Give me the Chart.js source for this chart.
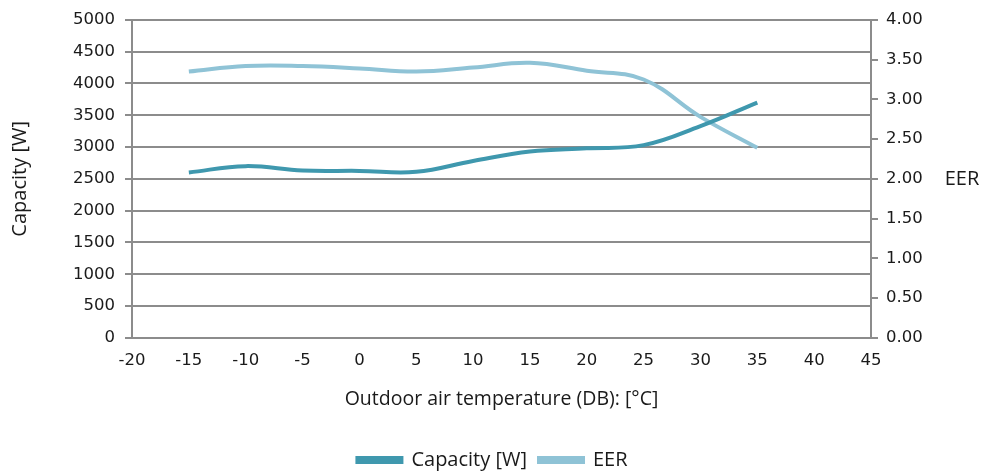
<!DOCTYPE html>
<html>
<head>
<meta charset="utf-8">
<script src="https://cdn.jsdelivr.net/npm/chart.js@4"></script>
<style>
  html, body { margin: 0; padding: 0; background: #ffffff; }
  #wrap { width: 985px; height: 476px; }
</style>
</head>
<body>
<div id="wrap"><canvas id="chart" width="985" height="476"></canvas></div>
<script>
const temps = [-15, -10, -5, 0, 5, 10, 15, 20, 25, 30, 35]
const capacity = [2600, 2700, 2630, 2625, 2610, 2780, 2930, 2980, 3030, 3330, 3700]
const eer = [3.35, 3.42, 3.42, 3.39, 3.35, 3.40, 3.46, 3.36, 3.25, 2.78, 2.39]

const gridGray = '#8c8c8c'
const textColor = '#1a1a1a'
const fontFamily = '"Open Sans", Lato, sans-serif'
const tickFont = { family: '"DejaVu Sans", sans-serif', size: 16.5 }

Chart.defaults.font.family = fontFamily
Chart.defaults.color = textColor

// right axis title is horizontal in the original, so it's drawn by hand
const eerTitle = {
    id: 'eer_title',
    afterDraw: (chart) => {
        const ctx = chart.ctx
        const area = chart.chartArea
        ctx.save()
        ctx.font = '20px ' + fontFamily
        ctx.fillStyle = textColor
        ctx.textAlign = 'center'
        ctx.textBaseline = 'middle'
        ctx.fillText('EER', chart.scales.y1.right - 23, (area.top + area.bottom) / 2)
        ctx.restore()
    }
}

function points(ys) {
    return temps.map((t, i) => ({x: t, y: ys[i]}))
}

const config = {
    type: 'line',
    data: {
        datasets: [{
            label: 'Capacity [W]',
            data: points(capacity),
            borderColor: '#3f98ae',
            backgroundColor: '#3f98ae',
            borderWidth: 4,
            pointRadius: 0,
            tension: 0.4,
            yAxisID: 'y',
        }, {
            label: 'EER',
            data: points(eer),
            borderColor: '#8fc3d6',
            backgroundColor: '#8fc3d6',
            borderWidth: 4,
            pointRadius: 0,
            tension: 0.4,
            yAxisID: 'y1',
        }]
    },
    plugins: [eerTitle],
    options: {
        responsive: false,
        animation: false,
        layout: { padding: { top: 16, left: 0, right: 0, bottom: -4 } },
        plugins: {
            tooltip: { enabled: false },
            legend: {
                position: 'bottom',
                labels: {
                    boxWidth: 44,
                    boxHeight: 4,
                    padding: 12,
                    font: { size: 20 },
                    color: textColor,
                }
            }
        },
        scales: {
            x: {
                type: 'linear',
                min: -20,
                max: 45,
                ticks: { stepSize: 5, font: tickFont, padding: 13 },
                grid: { display: false, drawTicks: false },
                border: { color: gridGray, width: 2 },
                title: {
                    display: true,
                    text: 'Outdoor air temperature (DB): [°C]',
                    font: { size: 19.5 },
                    padding: { top: 4, bottom: 27 },
                }
            },
            y: {
                position: 'left',
                min: 0,
                max: 5000,
                ticks: {
                    stepSize: 500,
                    font: tickFont,
                    padding: 10,
                    callback: (value) => String(value)
                },
                grid: { color: gridGray, lineWidth: 2, tickLength: 7 },
                border: { color: gridGray, width: 2 },
                title: {
                    display: true,
                    text: 'Capacity [W]',
                    font: { size: 20 },
                    padding: { top: 8, bottom: 8 },
                },
                afterFit: (scale) => { scale.width = 132 }
            },
            y1: {
                position: 'right',
                min: 0,
                max: 4,
                ticks: {
                    stepSize: 0.5,
                    font: tickFont,
                    padding: 8,
                    callback: (value) => value.toFixed(2)
                },
                grid: { drawOnChartArea: false, color: gridGray, lineWidth: 2, tickLength: 7 },
                border: { color: gridGray, width: 2 },
                afterFit: (scale) => { scale.width = 114 }
            }
        }
    }
}

var capacityChart = new Chart(document.getElementById('chart'), config)
</script>
</body>
</html>
